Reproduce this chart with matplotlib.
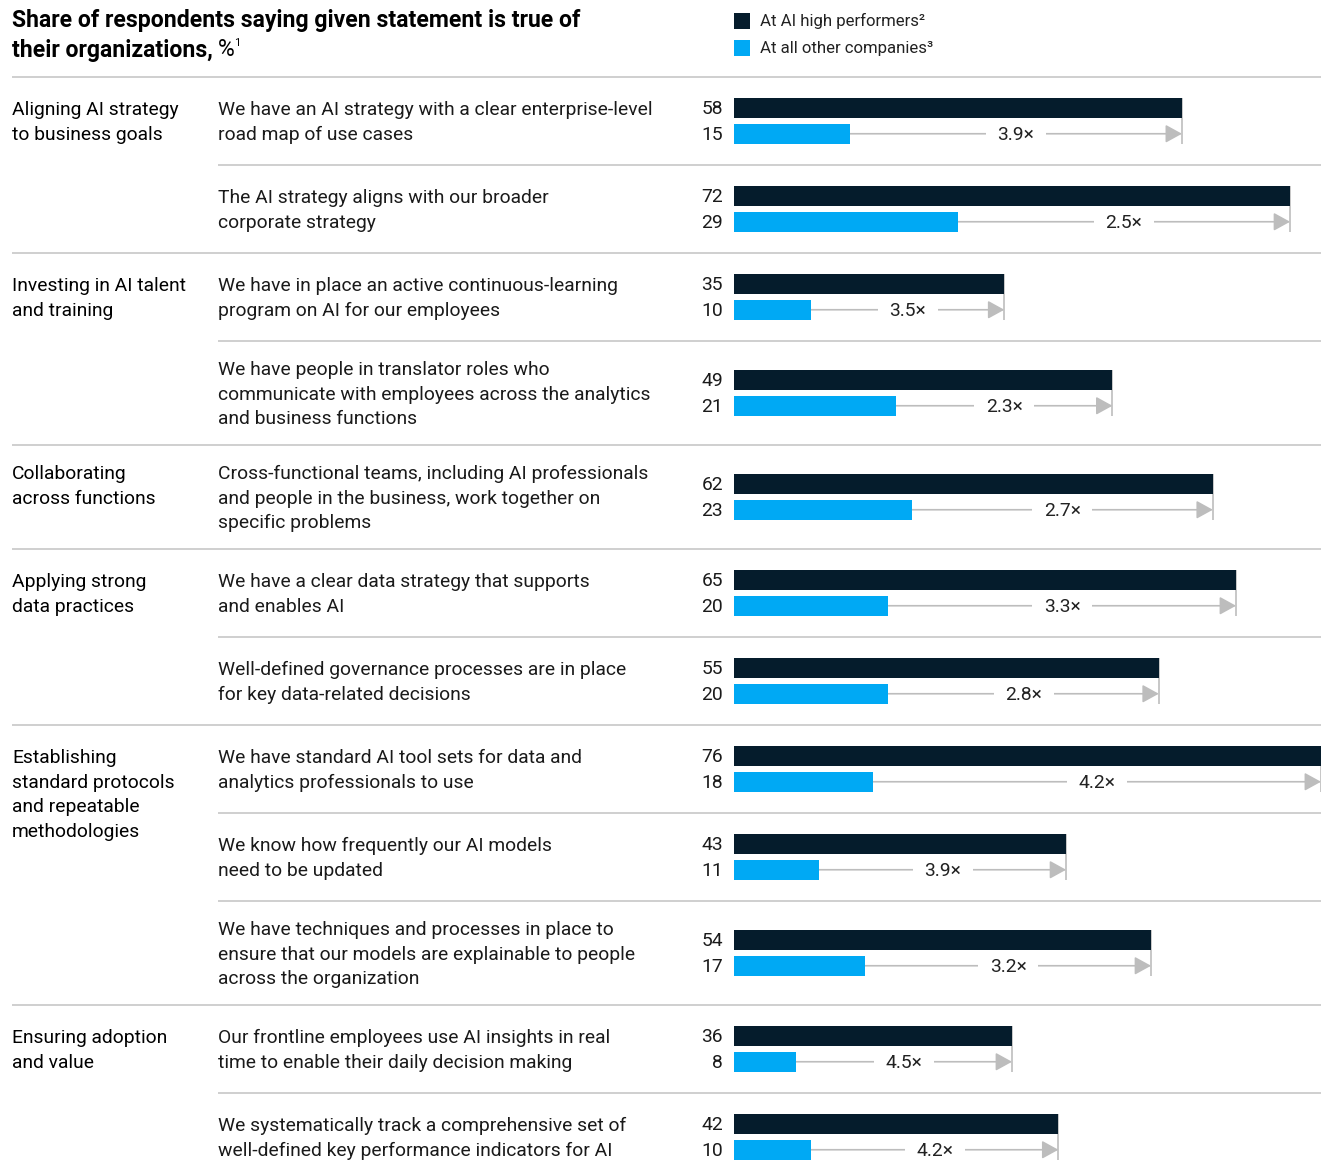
import matplotlib
matplotlib.use("Agg")
from matplotlib import pyplot as plt

W, H = 1331, 1175
DARK = "#051C2C"
BLUE = "#00A9F4"
GREY = "#BDBDBD"
RULE = "#CCCCCC"
TXT = "#1A1A1A"

plt.rcParams["font.family"] = ["Roboto", "DejaVu Sans"]

Groups = ["Aligning AI strategy\nto business goals",
          "Investing in AI talent\nand training",
          "Collaborating\nacross functions",
          "Applying strong\ndata practices",
          "Establishing\nstandard protocols\nand repeatable\nmethodologies",
          "Ensuring adoption\nand value"]
GroupSizes = [2, 2, 1, 2, 3, 2]

Statements = ["We have an AI strategy with a clear enterprise-level\nroad map of use cases",
              "The AI strategy aligns with our broader\ncorporate strategy",
              "We have in place an active continuous-learning\nprogram on AI for our employees",
              "We have people in translator roles who\ncommunicate with employees across the analytics\nand business functions",
              "Cross-functional teams, including AI professionals\nand people in the business, work together on\nspecific problems",
              "We have a clear data strategy that supports\nand enables AI",
              "Well-defined governance processes are in place\nfor key data-related decisions",
              "We have standard AI tool sets for data and\nanalytics professionals to use",
              "We know how frequently our AI models\nneed to be updated",
              "We have techniques and processes in place to\nensure that our models are explainable to people\nacross the organization",
              "Our frontline employees use AI insights in real\ntime to enable their daily decision making",
              "We systematically track a comprehensive set of\nwell-defined key performance indicators for AI"]

HighPerformers = [58, 72, 35, 49, 62, 65, 55, 76, 43, 54, 36, 42]
OtherCompanies = [15, 29, 10, 21, 23, 20, 20, 18, 11, 17, 8, 10]
Multipliers = ["3.9×", "2.5×", "3.5×", "2.3×", "2.7×", "3.3×", "2.8×", "4.2×", "3.9×", "3.2×", "4.5×", "4.2×"]

LegendLabels = ["At AI high performers²", "At all other companies³"]

# layout in pixels
TOP = 77
LINE_H = 24.5
BAR_X0, BAR_X1 = 734, 1321
FS = 13.9
TFS = 16.6

fig = plt.figure(figsize=(W / 100, H / 100), dpi=100)
ax = fig.add_axes([0, 0, 1, 1])
ax.set_xlim(0, W)
ax.set_ylim(H, 0)
ax.axis("off")

bx = fig.add_axes([BAR_X0 / W, 0, (BAR_X1 - BAR_X0) / W, 1])
bx.set_xlim(0, max(HighPerformers))
bx.set_ylim(H, 0)
bx.axis("off")


def lines_at(x, y_first, text, **kw):
    for k, line in enumerate(text.split("\n")):
        ax.text(x, y_first + k * LINE_H, line, va="center", ha="left", **kw)


# title
ax.text(12, 20, "Share of respondents saying given statement is true of",
        fontsize=TFS, fontweight="bold", color="black", va="center")
t2 = ax.text(12, 50, "their organizations, ", fontsize=TFS, fontweight="bold",
             color="black", va="center")
r = fig.canvas.get_renderer()
bb = t2.get_window_extent(r)
xe = ax.transData.inverted().transform((bb.x1, bb.y0))[0]
ax.text(xe - 1, 50, "%", fontsize=TFS, color="black", va="center")
ax.text(xe + 15, 43, "1", fontsize=8, color="black", va="center")

# legend
for k, (lab, col) in enumerate(zip(LegendLabels, [DARK, BLUE])):
    y = 21 + k * 27
    ax.add_patch(plt.Rectangle((734, y - 8), 16, 16, color=col, lw=0))
    ax.text(760, y, lab, fontsize=12.1, color="#222222", va="center")

ax.hlines(TOP, 12, BAR_X1, color=RULE, lw=1.3)

# rows
row_top = TOP
idx = 0
for g, size in zip(Groups, GroupSizes):
    for j in range(size):
        s = Statements[idx]
        n = s.count("\n") + 1
        rh = 88 + 16 * (n - 2)
        yc = row_top + rh / 2
        y_first = yc - (n - 1) * LINE_H / 2 + 1.5
        lines_at(218, y_first, s, fontsize=FS, color=TXT)
        if j == 0:
            lines_at(12, y_first, g, fontsize=FS, color="black")

        yd = yc - 12.75
        yb = yc + 12.75
        hi = HighPerformers[idx]
        lo = OtherCompanies[idx]
        bx.barh([yd], [hi], height=20, color=DARK, zorder=3)
        bx.barh([yb], [lo], height=20, color=BLUE, zorder=3)
        bx.vlines(hi, yd - 10, yb + 10, color=GREY, lw=1.2, zorder=2)
        bx.annotate("", xy=(hi, yb), xytext=(lo, yb),
                    arrowprops=dict(arrowstyle="-|>,head_length=1.0,head_width=0.55",
                                    color=GREY, lw=1.2, shrinkA=0, shrinkB=0,
                                    mutation_scale=10), zorder=1)
        bx.text((hi + lo) / 2, yb + 1, Multipliers[idx], fontsize=FS, color="#222222",
                ha="center", va="center", zorder=2,
                bbox=dict(boxstyle="square,pad=0.6", fc="white", ec="none"))
        ax.text(723, yd + 1, str(hi), fontsize=FS, color=TXT, ha="right", va="center")
        ax.text(723, yb + 1, str(lo), fontsize=FS, color=TXT, ha="right", va="center")

        row_top += rh
        idx += 1
        if idx < len(Statements):
            x0 = 218 if j < size - 1 else 12
            ax.hlines(row_top, x0, BAR_X1, color=RULE, lw=1.3)

fig.savefig("out.png", dpi=100)
